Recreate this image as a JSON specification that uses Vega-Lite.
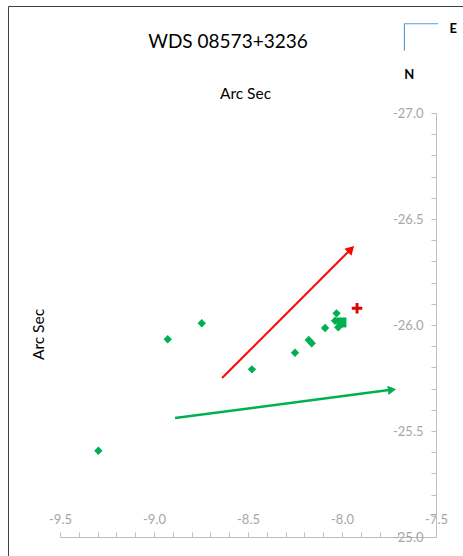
{
  "$schema": "https://vega.github.io/schema/vega-lite/v6.json",
  "width": 376,
  "height": 424,
  "autosize": {"type": "none"},
  "padding": {"left": 60, "top": 113, "right": 27, "bottom": 19},
  "background": "white",
  "config": {"view": {"stroke": null}, "font": "Lato"},
  "title": {"text": "WDS 08573+3236", "fontSize": 19, "fontWeight": "normal", "font": "Lato", "color": "#000000", "anchor": "middle", "dx": -20, "dy": 50},
  "datasets": {
    "frame": [
      {"x": -9.774, "y": -27.5024, "x2": -7.0, "y2": -27.5024},
      {"x": -9.774, "y": -27.5024, "x2": -9.774, "y2": -24.5}
    ],
    "compass": [
      {"x": -7.670, "y": -27.421, "x2": -7.489, "y2": -27.421},
      {"x": -7.668, "y": -27.421, "x2": -7.668, "y2": -27.294}
    ],
    "compassText": [
      {"x": -7.408, "y": -27.395, "label": "E"},
      {"x": -7.642, "y": -27.179, "label": "N"}
    ],
    "redLine": [{"x": -8.638, "y": -25.750, "x2": -7.957, "y2": -26.354}],
    "redHead": [{"x": -7.952, "y": -26.358}],
    "greenLine": [{"x": -8.888, "y": -25.561, "x2": -7.750, "y2": -25.693}],
    "greenHead": [{"x": -7.734, "y": -25.694}],
    "measures": [
      {"x": -9.296, "y": -25.407},
      {"x": -8.927, "y": -25.933},
      {"x": -8.746, "y": -26.008},
      {"x": -8.479, "y": -25.791},
      {"x": -8.250, "y": -25.869},
      {"x": -8.177, "y": -25.929},
      {"x": -8.161, "y": -25.914},
      {"x": -8.090, "y": -25.986},
      {"x": -8.029, "y": -26.055},
      {"x": -8.037, "y": -26.020},
      {"x": -8.020, "y": -25.989}
    ],
    "last": [{"x": -8.003, "y": -26.012}],
    "predicted": [{"x": -7.920, "y": -26.079}]
  },
  "encoding": {
    "x": {
      "field": "x", "type": "quantitative",
      "scale": {"domain": [-9.5, -7.5], "nice": false, "zero": false},
      "axis": {
        "orient": "top", "offset": -424,
        "values": [-9.5, -9.4, -9.3, -9.2, -9.1, -9.0, -8.9, -8.8, -8.7, -8.6, -8.5, -8.4, -8.3, -8.2, -8.1, -8.0, -7.9, -7.8, -7.7, -7.6, -7.5],
        "labelExpr": "abs(round(datum.value*10))%5==0 ? ((datum.value<0?'-':'') + format(abs(datum.value),'.1f')) : ''",
        "labelOverlap": false, "labelFlush": false, "labelBound": false,
        "grid": false,
        "domainColor": "#BFBFBF", "tickColor": "#BFBFBF", "tickSize": 5,
        "labelColor": "#A6A6A6", "labelFontSize": 13, "labelPadding": 6, "labelFont": "Lato",
        "title": "Arc Sec", "titleFont": "Lato", "titleFontSize": 15.5, "titleFontWeight": "normal", "titleColor": "#000000",
        "titleX": 185, "titleY": -439, "titleAlign": "center", "titleBaseline": "alphabetic", "titleAngle": 0
      }
    },
    "y": {
      "field": "y", "type": "quantitative",
      "scale": {"domain": [-27, -25], "reverse": true, "nice": false, "zero": false},
      "axis": {
        "orient": "left", "offset": -376,
        "values": [-27.0, -26.9, -26.8, -26.7, -26.6, -26.5, -26.4, -26.3, -26.2, -26.1, -26.0, -25.9, -25.8, -25.7, -25.6, -25.5, -25.4, -25.3, -25.2, -25.1, -25.0],
        "labelExpr": "abs(round(datum.value*10))%5==0 ? ((datum.value<0?'-':'') + format(abs(datum.value),'.1f')) : ''",
        "labelOverlap": false, "labelFlush": false, "labelBound": false,
        "grid": false,
        "domainColor": "#BFBFBF", "tickColor": "#BFBFBF", "tickSize": 5,
        "labelColor": "#A6A6A6", "labelFontSize": 13, "labelPadding": 8, "labelFont": "Lato",
        "title": "Arc Sec", "titleFont": "Lato", "titleFontSize": 15.5, "titleFontWeight": "normal", "titleColor": "#000000",
        "titleX": -390, "titleY": 221, "titleAlign": "center", "titleBaseline": "bottom", "titleAngle": -90
      }
    }
  },
  "layer": [
    {
      "data": {"name": "frame"},
      "mark": {"type": "rule", "color": "#404040", "strokeWidth": 1},
      "encoding": {"x2": {"field": "x2"}, "y2": {"field": "y2"}}
    },
    {
      "data": {"name": "compass"},
      "mark": {"type": "rule", "color": "#5B9BD5", "strokeWidth": 1.2},
      "encoding": {"x2": {"field": "x2"}, "y2": {"field": "y2"}}
    },
    {
      "data": {"name": "compassText"},
      "mark": {"type": "text", "font": "Lato", "fontSize": 13, "fontWeight": "bold", "color": "#000000", "align": "center", "baseline": "middle"},
      "encoding": {"text": {"field": "label"}}
    },
    {
      "data": {"name": "redLine"},
      "mark": {"type": "rule", "color": "#FF0000", "strokeWidth": 2},
      "encoding": {"x2": {"field": "x2"}, "y2": {"field": "y2"}}
    },
    {
      "data": {"name": "redHead"},
      "mark": {"type": "point", "shape": "triangle-up", "angle": 45, "size": 100, "filled": true, "color": "#FF0000", "opacity": 1}
    },
    {
      "data": {"name": "greenLine"},
      "mark": {"type": "rule", "color": "#00B050", "strokeWidth": 2.5},
      "encoding": {"x2": {"field": "x2"}, "y2": {"field": "y2"}}
    },
    {
      "data": {"name": "greenHead"},
      "mark": {"type": "point", "shape": "triangle-up", "angle": 83, "size": 90, "filled": true, "color": "#00B050", "opacity": 1}
    },
    {
      "data": {"name": "measures"},
      "mark": {"type": "point", "shape": "diamond", "size": 70, "filled": true, "color": "#00B050", "opacity": 1}
    },
    {
      "data": {"name": "last"},
      "mark": {"type": "point", "shape": "square", "size": 100, "filled": true, "color": "#00B050", "opacity": 1}
    },
    {
      "data": {"name": "predicted"},
      "mark": {"type": "point", "shape": "M-1,-0.28H1V0.28H-1Z M-0.28,-1H0.28V1H-0.28Z", "size": 110, "filled": true, "color": "#E00000", "opacity": 1}
    }
  ]
}
